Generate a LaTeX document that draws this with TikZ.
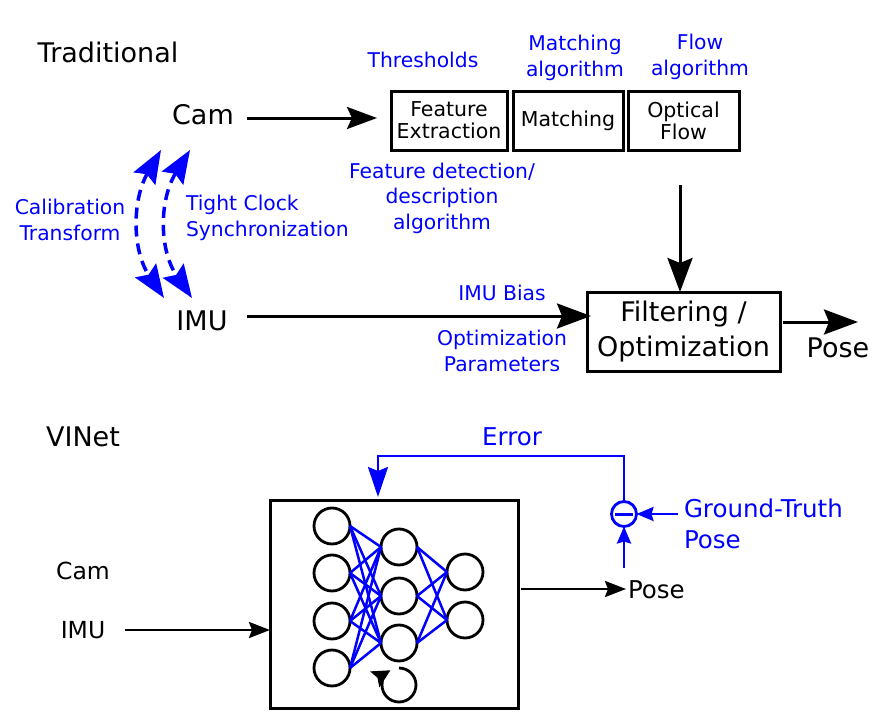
\documentclass[tikz,border=0pt]{standalone}
\usepackage{fontspec}
\setmainfont{DejaVu Sans}
\usetikzlibrary{arrows.meta}
\definecolor{myblue}{RGB}{0,0,255}
\tikzset{
  every node/.style={inner sep=0pt, outer sep=0pt},
  arr/.style={line width=3pt, -{Stealth[length=34pt,width=25pt,inset=5pt]}},
  sarr/.style={line width=2.5pt, -{Stealth[length=21pt,width=16pt,inset=3pt]}},
  box/.style={draw, line width=3pt, align=center, font=\fontsize{20.5}{24}\selectfont},
  blab/.style={text=myblue, align=center, font=\fontsize{20.3}{25.5}\selectfont},
  lab/.style={font=\fontsize{27}{30}\selectfont},
  neur/.style={circle, draw, line width=2.8pt, minimum size=36pt},
  conn/.style={myblue, line width=2.5pt},
  dasharc/.style={myblue, line width=3.5pt, dash pattern=on 11pt off 7pt,
    {Stealth[length=33pt,width=25pt,inset=5pt]}-{Stealth[length=33pt,width=25pt,inset=5pt]}},
}
\begin{document}
\begin{tikzpicture}[x=1pt,y=-1pt]
\useasboundingbox (0,0) rectangle (884,728);
% ---------- Traditional ----------
\node[lab] (trad) at (108,52) {Traditional};
\node[lab] (cam) at (203,115) {Cam};
\node[lab] (imu) at (202,321) {IMU};
\node[box, minimum width=116pt, minimum height=59pt] (fe) at (449,120.5) {Feature\\[-2pt]Extraction};
\node[box, minimum width=110pt, minimum height=59pt] (ma) at (568,120.5) {Matching};
\node[box, minimum width=111pt, minimum height=59pt] (of) at (683.5,120.5) {Optical\\[-2pt]Flow};
\node[draw, line width=3pt, minimum width=193pt, minimum height=79pt, align=center, font=\fontsize{27}{35}\selectfont] (filt) at (683.5,331.5) {Filtering /\\Optimization};
\node[lab] (pose1) at (838,348) {Pose};
\coordinate (camE) at (247,118);
\coordinate (feW) at (377,118);
\coordinate (ofS) at (680,185);
\coordinate (imuE) at (247,316);
\coordinate (filtE) at (783,322);
\coordinate (poseA) at (858,322);
\draw[line width=3pt, -{Stealth[length=30pt,width=22pt,inset=5pt]}] (camE) -- (feW);
\draw[arr] (ofS) -- (filt.north -| ofS);
\draw[arr] (imuE) -- ([xshift=4pt]filt.west |- imuE);
\draw[arr] (filtE) -- (poseA);
% blue dashed arcs
\coordinate (a1t) at (161,150);
\coordinate (a1b) at (164,298);
\coordinate (a2t) at (190,150);
\coordinate (a2b) at (192,298);
\draw[dasharc] (a1t) .. controls (132,200) and (132,250) .. (a1b);
\draw[dasharc] (a2t) .. controls (159,200) and (159,250) .. (a2b);
\node[blab] (calib) at (70,220) {Calibration\\Transform};
\node[blab, align=left, anchor=west] (tight) at (186,218) {Tight Clock\\Synchronization};
\node[blab] (thr) at (423,60) {Thresholds};
\node[blab] (matalg) at (575,58) {Matching\\algorithm};
\node[blab] (flowalg) at (700,57) {Flow\\algorithm};
\node[blab] (featdet) at (442,198) {Feature detection/\\description\\algorithm};
\node[blab] (bias) at (502,293) {IMU Bias};
\node[blab] (optp) at (502,351) {Optimization\\Parameters};
% ---------- VINet ----------
\node[lab] (vinet) at (83,437) {VINet};
\node[font=\fontsize{23.5}{27}\selectfont] (cam2) at (83,571) {Cam};
\node[font=\fontsize{23.5}{27}\selectfont] (imu2) at (83,630) {IMU};
\node[draw, line width=3pt, minimum width=248pt, minimum height=208pt] (net) at (394,604) {};
\foreach \i/\y in {1/526,2/573,3/621,4/668} \node[neur] (a\i) at (332,\y) {};
\foreach \i/\y in {1/547,2/596,3/643} \node[neur] (b\i) at (399,\y) {};
\foreach \i/\y in {1/572,2/620} \node[neur] (c\i) at (465,\y) {};
\foreach \i in {1,2,3,4} \foreach \j in {1,2,3} \draw[conn] (a\i.east) -- (b\j.west);
\foreach \i in {1,2,3} \foreach \j in {1,2} \draw[conn] (b\i.east) -- (c\j.west);
\coordinate (rc) at (399,685);
\draw[line width=2.8pt, -{Stealth[length=18pt,width=18pt,inset=3pt]}] (rc) ++(-90:17) arc (-90:240:17);
\coordinate (imu2E) at (125,630);
\draw[sarr] (imu2E) -- (net.west |- imu2E);
\node[font=\fontsize{24.5}{27}\selectfont, anchor=west] (pose2) at (628,590) {Pose};
\coordinate (netE) at (521,589);
\draw[sarr] (netE) -- ([xshift=-2pt]pose2.west |- netE);
% error loop
\node[circle, draw=myblue, line width=2.8pt, minimum size=25pt] (minus) at (624,514) {};
\draw[myblue, line width=3pt] ([xshift=-9pt]minus.center) -- ([xshift=9pt]minus.center);
\coordinate (upS) at (624,568);
\draw[myblue, line width=2.5pt, -{Stealth[length=17pt,width=14pt,inset=2pt]}] (upS) -- (minus.south);
\coordinate (gtS) at (678,514);
\draw[myblue, line width=2.5pt, -{Stealth[length=17pt,width=14pt,inset=2pt]}] (gtS) -- (minus.east);
\node[text=myblue, align=left, anchor=west, font=\fontsize{24.5}{31}\selectfont] (gt) at (684,524) {Ground-Truth\\Pose};
\coordinate (errC) at (378,456);
\coordinate (errT) at (378,497);
\draw[myblue, line width=2.5pt, -{Stealth[length=30pt,width=20pt,inset=4pt]}] (minus.north) |- (errC) -- (errT);
\node[text=myblue, font=\fontsize{24.5}{28}\selectfont] (err) at (512,437) {Error};
\end{tikzpicture}
\end{document}
